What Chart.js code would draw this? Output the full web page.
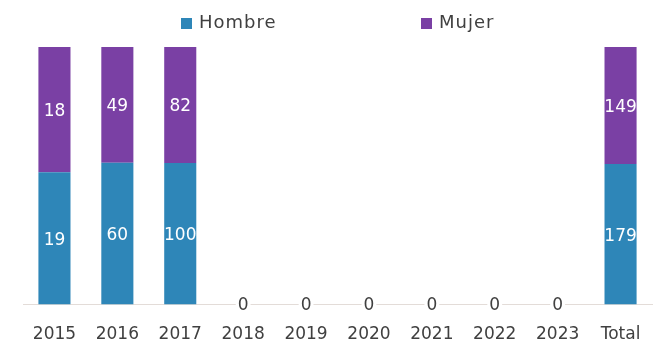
<!DOCTYPE html>
<html>
<head>
    <meta charset="utf-8">
    <script src="https://cdn.jsdelivr.net/npm/chart.js"></script>
    <style>
        body { margin: 0; background: #fff; }
        #wrap { width: 653px; height: 346px; }
    </style>
</head>
<body>
<div id="wrap"><canvas id="genderChart"></canvas></div>
<script>
const years = ["2015", "2016", "2017", "2018", "2019", "2020", "2021", "2022", "2023", "Total"]
const hombre = [19, 60, 100, 0, 0, 0, 0, 0, 0, 179]
const mujer = [18, 49, 82, 0, 0, 0, 0, 0, 0, 149]

const blue = "#2e86b8"
const purple = "#7a40a4"
const textColor = "#404040"
const font = "'DejaVu Sans', sans-serif"

// share of each year, bars are stacked to 100%
function share(part, other){
    return part.map((v, i) => {
        const sum = v + other[i]
        return sum > 0 ? v / sum * 100 : 0
    })
}

const valueLabels = {
    id: "valueLabels",
    afterDatasetsDraw(chart){
        const ctx = chart.ctx
        ctx.save()
        ctx.font = "17px " + font
        ctx.textAlign = "center"
        ctx.textBaseline = "middle"
        chart.data.datasets.forEach((ds, d) => {
            const meta = chart.getDatasetMeta(d)
            meta.data.forEach((bar, i) => {
                const v = ds.raw[i]
                if (v > 0){
                    ctx.fillStyle = "#fff"
                    ctx.fillText(String(v), bar.x, (bar.y + bar.base) / 2 + 2)
                } else if (d == 0){
                    const w = ctx.measureText("0").width
                    ctx.fillStyle = "#fff"
                    ctx.fillRect(bar.x - w / 2 - 2, bar.base - 8, w + 4, 16)
                    ctx.fillStyle = textColor
                    ctx.fillText("0", bar.x, bar.base + 1)
                }
            })
        })
        ctx.restore()
    }
}

const topLegend = {
    id: "topLegend",
    afterDraw(chart){
        const ctx = chart.ctx
        const spots = [181, 421]
        ctx.save()
        ctx.font = "18px " + font
        ctx.letterSpacing = "1px"
        ctx.textBaseline = "middle"
        chart.data.datasets.forEach((ds, d) => {
            ctx.fillStyle = ds.backgroundColor
            ctx.fillRect(spots[d], 18, 11, 11)
            ctx.fillStyle = textColor
            ctx.fillText(ds.label, spots[d] + 18, 23)
        })
        ctx.restore()
    }
}

const chart = document.getElementById("genderChart")
let barChart = new Chart(chart, {
    type: 'bar',
    data: {
        labels: years,
        datasets: [{
            label: "Hombre",
            data: share(hombre, mujer),
            raw: hombre,
            backgroundColor: blue
        }, {
            label: "Mujer",
            data: share(mujer, hombre),
            raw: mujer,
            backgroundColor: purple
        }]
    },
    options: {
        responsive: true,
        maintainAspectRatio: false,
        animation: false,
        layout: { padding: { top: 47, left: 23, right: 1, bottom: -2 } },
        datasets: { bar: { categoryPercentage: 1, barPercentage: 0.51 } },
        plugins: {
            legend: { display: false },
            tooltip: { enabled: false }
        },
        scales: {
            x: {
                stacked: true,
                // invisible tick marks push the labels down without widening the side padding
                grid: { display: true, drawOnChartArea: false, drawTicks: true, tickLength: 17, color: "transparent" },
                border: { color: "#e3dcd8" },
                ticks: { color: textColor, font: { family: font, size: 17 }, padding: 3, maxRotation: 0, autoSkip: false }
            },
            y: {
                stacked: true,
                display: false,
                min: 0,
                max: 100
            }
        }
    },
    plugins: [valueLabels, topLegend]
})
</script>
</body>
</html>
